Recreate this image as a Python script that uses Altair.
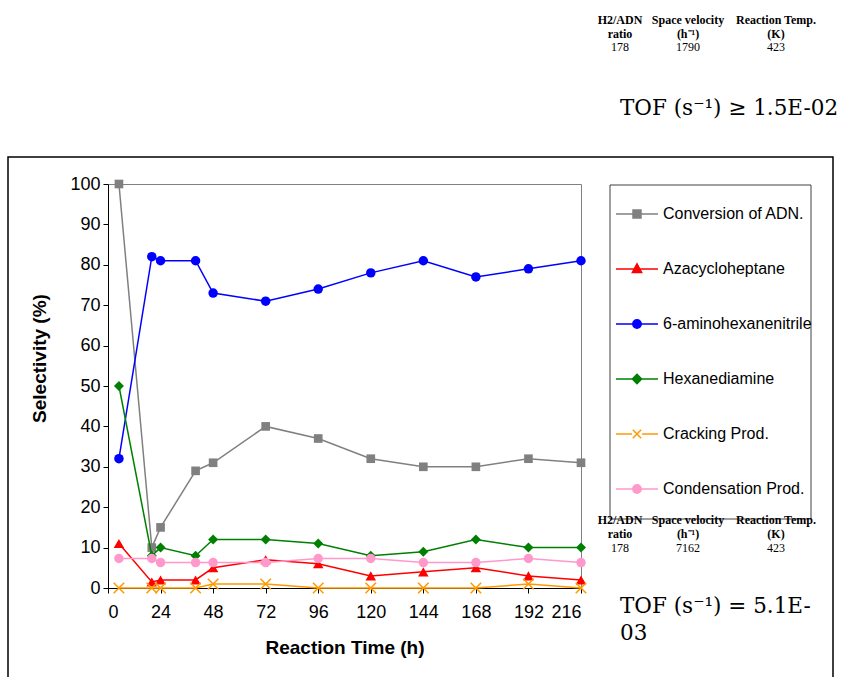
import altair as alt
import pandas as pd

# ---------------- data ----------------
time_h = [5, 20, 24, 40, 48, 72, 96, 120, 144, 168, 192, 216]
conversion = [100, 10, 15, 29, 31, 40, 37, 32, 30, 30, 32, 31]
azacycloheptane = [11, 1.5, 2, 2, 5, 7, 6, 3, 4, 5, 3, 2]
aminohexanenitrile = [32, 82, 81, 81, 73, 71, 74, 78, 81, 77, 79, 81]
hexanediamine = [50, 8, 10, 8, 12, 12, 11, 8, 9, 12, 10, 10]
cracking = [0, 0, 0, 0, 1, 1, 0, 0, 0, 0, 1, 0]
condensation = [7.3, 7.3, 6.3, 6.3, 6.3, 6.3, 7.3, 7.3, 6.3, 6.3, 7.3, 6.3]

series_names = ["Conversion of ADN.", "Azacycloheptane", "6-aminohexanenitrile",
                "Hexanediamine", "Cracking Prod.", "Condensation Prod."]
series_values = [conversion, azacycloheptane, aminohexanenitrile,
                 hexanediamine, cracking, condensation]
series_colors = ["#808080", "#FF0000", "#0000FF", "#008000", "#FF9900", "#FF99CC"]

x_ticks = list(range(0, 217, 24))
y_ticks = list(range(0, 101, 10))

table_headers = ["H2/ADN", "Space velocity", "Reaction Temp."]
table_units = ["ratio", "(h\u207b\u00b9)", "(K)"]
table_top_values = ["178", "1790", "423"]
table_bottom_values = ["178", "7162", "423"]
tof_top = "TOF (s\u207b\u00b9) \u2265 1.5E-02"
tof_bottom = ["TOF (s\u207b\u00b9) = 5.1E-", "03"]

# ---------------- styles ----------------
marker_shapes = ["square", "triangle-up", "circle", "diamond",
                 "M-1,-1L1,1M-1,1L1,-1", "circle"]
marker_sizes = [75, 110, 90, 100, 110, 90]
legend_paths = [
    "M-1,0L1,0M-0.19,-0.19L0.19,-0.19L0.19,0.19L-0.19,0.19Z",
    "M-1,0L1,0M0,-0.24L0.22,0.17L-0.22,0.17Z",
    "M-1,0L1,0M0.2,0A0.2,0.2 0 1,1 -0.2,0A0.2,0.2 0 1,1 0.2,0Z",
    "M-1,0L1,0M0,-0.22L0.22,0L0,0.22L-0.22,0Z",
    "M-1,0L-0.24,0M0.24,0L1,0M-0.2,-0.2L0.2,0.2M-0.2,0.2L0.2,-0.2",
    "M-1,0L1,0M0.2,0A0.2,0.2 0 1,1 -0.2,0A0.2,0.2 0 1,1 0.2,0Z",
]

rows = []
for name, vals in zip(series_names, series_values):
    for t, v in zip(time_h, vals):
        rows.append({"time": t, "value": v, "series": name})
df = pd.DataFrame(rows)

x_enc = alt.X("time:Q", scale=alt.Scale(domain=[0, 216], nice=False),
              axis=alt.Axis(values=x_ticks, title="Reaction Time (h)", grid=False,
                            labelFontSize=18, titleFontSize=19, titleFontWeight="bold",
                            labelPadding=10, tickSize=5, titleY=59,
                            titleBaseline="middle"))
y_enc = alt.Y("value:Q", scale=alt.Scale(domain=[0, 100], nice=False),
              axis=alt.Axis(values=y_ticks, title="Selectivity (%)", grid=False,
                            labelFontSize=18, titleFontSize=19, titleFontWeight="bold",
                            labelPadding=3, tickSize=5, titleX=-69, titleY=174,
                            titleAngle=270, titleAlign="center", titleBaseline="middle"))

dummy = pd.DataFrame({"k": [0]})

layers = []

# outer frame and legend box (decoration)
layers.append(alt.Chart(dummy).mark_rect(fill="transparent", stroke="#000000", strokeWidth=1.5).encode(
    x=alt.value(-100), x2=alt.value(725), y=alt.value(-27), y2=alt.value(520)))
layers.append(alt.Chart(dummy).mark_rect(fill="white", stroke="#404040", strokeWidth=1).encode(
    x=alt.value(502), x2=alt.value(703), y=alt.value(1), y2=alt.value(335)))

for i, name in enumerate(series_names):
    base = alt.Chart(df).transform_filter(alt.datum.series == name)
    layers.append(base.mark_line(color=series_colors[i], strokeWidth=1.5).encode(x=x_enc, y=y_enc))
    if name == "Cracking Prod.":
        pt = base.mark_point(shape=marker_shapes[i], filled=False, color=series_colors[i],
                             strokeWidth=1.5, size=marker_sizes[i], opacity=1)
    else:
        pt = base.mark_point(shape=marker_shapes[i], filled=True, color=series_colors[i],
                             size=marker_sizes[i], opacity=1)
    layers.append(pt.encode(x=x_enc, y=y_enc))

# legend built from scales (no visible data points)
leg = alt.Legend(orient="none", legendX=507, legendY=8, title=None, symbolSize=1764,
                 symbolStrokeWidth=1.5, labelFont="Liberation Sans", labelFontSize=16,
                 labelColor="#000000", labelOffset=4, rowPadding=25, labelLimit=400,
                 padding=0)
legend_layer = alt.Chart(df).transform_filter("false").mark_point(filled=True, opacity=1).encode(
    fill=alt.Fill("series:N", scale=alt.Scale(domain=series_names, range=series_colors), legend=leg),
    stroke=alt.Stroke("series:N", scale=alt.Scale(domain=series_names, range=series_colors), legend=leg),
    shape=alt.Shape("series:N", scale=alt.Scale(domain=series_names, range=legend_paths), legend=leg),
)
layers.append(legend_layer)

# text annotations
col_x = [512, 580, 668]

def txt(s, x, y, font="Liberation Serif", size=12, weight="normal", align="center", baseline="middle"):
    return alt.Chart(dummy).mark_text(text=s, font=font, fontSize=size, fontWeight=weight,
                                      align=align, baseline=baseline, color="#000000").encode(
        x=alt.value(x), y=alt.value(y))

for j in range(3):
    layers.append(txt(table_headers[j], col_x[j], -164, weight="bold"))
    layers.append(txt(table_units[j], col_x[j], -150, weight="bold"))
    layers.append(txt(table_top_values[j], col_x[j], -137))
    layers.append(txt(table_headers[j], col_x[j], 336, weight="bold"))
    layers.append(txt(table_units[j], col_x[j], 350, weight="bold"))
    layers.append(txt(table_bottom_values[j], col_x[j], 364))

layers.append(txt(tof_top, 512, -75, font="DejaVu Serif", size=21.5, align="left"))
layers.append(txt(tof_bottom[0], 512, 423, font="DejaVu Serif", size=21.5, align="left"))
layers.append(txt(tof_bottom[1], 512, 450, font="DejaVu Serif", size=21.5, align="left"))

chart = alt.layer(*layers).properties(
    width=473, height=404,
    padding={"left": 108, "top": 184, "right": 262, "bottom": 89},
    autosize=alt.AutoSizeParams(type="none"),
    background="white",
).configure_view(stroke="#808080", strokeWidth=1).configure_axis(
    labelFont="Liberation Sans", titleFont="Liberation Sans",
    labelColor="#000000", titleColor="#000000",
    domainColor="#000000", tickColor="#000000", domainWidth=1, tickWidth=1,
)

chart.save("out.html", embed_options={"renderer": "svg", "actions": False})
